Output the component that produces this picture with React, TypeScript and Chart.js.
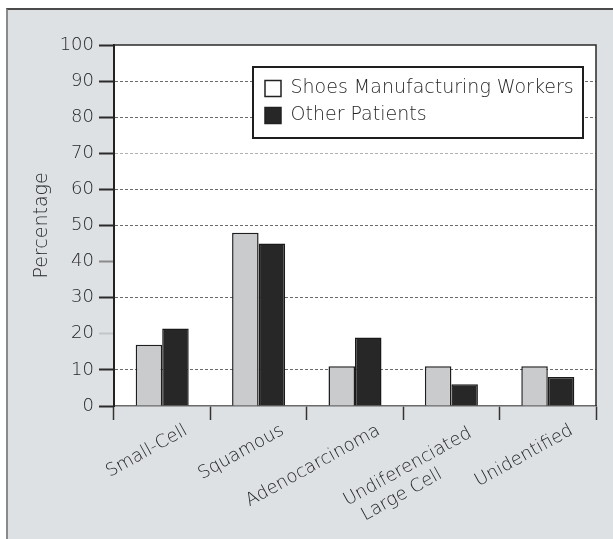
import React, { useEffect, useRef } from 'react';
import { Chart, registerables } from 'chart.js';

Chart.register(...registerables);

// ---- data ----
const categories: (string | string[])[] = [
  'Small-Cell',
  'Squamous',
  'Adenocarcinoma',
  ['Undiferenciated\u00a0', 'Large Cell\u00a0\u00a0\u00a0\u00a0\u00a0\u00a0\u00a0\u00a0\u00a0'],
  'Unidentified',
];
const seriesNames = ['Shoes Manufacturing Workers', 'Other Patients'];
const shoesWorkers = [17, 48, 11, 11, 11];
const otherPatients = [21.5, 45, 19, 6, 8];
const yMin = 0;
const yMax = 100;
const yStep = 10;

// ---- styles ----
const FONT = 'DejaVu Sans';
const WEIGHT = '200';
const TEXT = '#262626';
const GRAY_BAR = '#c9cbcc';
const DARK_BAR = '#272727';
const legendFills = ['#ffffff', DARK_BAR];
const LEGEND_BOX = { left: 253, top: 67, right: 583, bottom: 138 };

const gridColorFor = (v: number) => {
  if (v === 0 || v === 100 || v === 20 || v === 40) return 'rgba(0,0,0,0)';
  if (v === 70) return '#b0b0b0';
  return '#6a6a6a';
};
const tickColorFor = (v: number) => {
  if (v === 20) return 'rgba(0,0,0,0.12)';
  if (v === 40) return '#8a8a8a';
  return '#2a2a2a';
};

const framePlugin = {
  id: 'frames',
  beforeDraw(chart: any) {
    const { ctx, chartArea } = chart;
    const { left, top, right, bottom } = chartArea;
    ctx.save();
    ctx.fillStyle = '#ffffff';
    ctx.fillRect(left, top, right - left, bottom - top);
    ctx.restore();
  },
  afterLayout(chart: any) {
    const lg = chart.legend;
    if (!lg) return;
    lg.left = LEGEND_BOX.left + 4;
    lg.top = LEGEND_BOX.top + 4;
    lg.right = LEGEND_BOX.right;
    lg.bottom = LEGEND_BOX.bottom + 10;
    lg.width = lg.right - lg.left;
    lg.height = lg.bottom - lg.top;
  },
  beforeDatasetsDraw(chart: any) {
    const { ctx, chartArea } = chart;
    const { left, top, right, bottom } = chartArea;
    ctx.save();
    ctx.strokeStyle = '#2a2a2a';
    ctx.lineWidth = 1.5;
    ctx.beginPath();
    ctx.moveTo(left, top);
    ctx.lineTo(right, top);
    ctx.lineTo(right, bottom);
    ctx.stroke();
    // legend frame
    ctx.fillStyle = '#ffffff';
    ctx.fillRect(LEGEND_BOX.left, LEGEND_BOX.top, LEGEND_BOX.right - LEGEND_BOX.left, LEGEND_BOX.bottom - LEGEND_BOX.top);
    ctx.strokeStyle = '#1e1e1e';
    ctx.lineWidth = 2;
    ctx.strokeRect(LEGEND_BOX.left, LEGEND_BOX.top, LEGEND_BOX.right - LEGEND_BOX.left, LEGEND_BOX.bottom - LEGEND_BOX.top);
    ctx.restore();
    if (chart.legend) chart.legend.draw();
  },
};

export default function App() {
  const ref = useRef<HTMLCanvasElement | null>(null);

  useEffect(() => {
    if (!ref.current) return;
    const chart = new Chart(ref.current, {
      type: 'bar',
      data: {
        labels: categories as any,
        datasets: [
          {
            label: seriesNames[0],
            data: shoesWorkers,
            backgroundColor: GRAY_BAR,
            borderColor: '#1e1e1e',
            borderWidth: 1.5,
            categoryPercentage: 0.55,
            barPercentage: 1,
          },
          {
            label: seriesNames[1],
            data: otherPatients,
            backgroundColor: DARK_BAR,
            borderColor: '#1a1a1a',
            borderWidth: 1.5,
            categoryPercentage: 0.55,
            barPercentage: 1,
          },
        ],
      },
      options: {
        responsive: false,
        animation: false,
        devicePixelRatio: 1,
        layout: { padding: { left: 0, top: 45, right: 17, bottom: 0 } },
        plugins: {
          tooltip: { enabled: false },
          legend: {
            position: 'chartArea' as any,
            align: 'start',
            labels: {
              boxWidth: 16,
              boxHeight: 16,
              padding: 8,
              color: TEXT,
              font: { family: FONT, size: 19, weight: WEIGHT as any },
              generateLabels: () =>
                seriesNames.map((name, i) => ({
                  text: name,
                  fillStyle: legendFills[i],
                  strokeStyle: '#222',
                  lineWidth: 1.5,
                  hidden: false,
                  datasetIndex: i,
                  fontColor: TEXT,
                })),
            },
          },
        },
        scales: {
          x: {
            type: 'category',
            offset: true,
            grid: {
              offset: true,
              drawOnChartArea: false,
              drawTicks: true,
              tickLength: 14,
              tickColor: '#333',
              tickWidth: 1.5,
            },
            border: { color: '#6a6a6a', width: 1.5 },
            ticks: {
              autoSkip: false,
              minRotation: 29,
              maxRotation: 29,
              labelOffset: 24,
              padding: 0,
              color: TEXT,
              font: { family: FONT, size: 18, weight: WEIGHT as any },
            },
            afterFit: (s: any) => {
              s.height = 133;
            },
          },
          y: {
            min: yMin,
            max: yMax,
            ticks: {
              stepSize: yStep,
              padding: 5,
              color: TEXT,
              font: { family: FONT, size: 18, weight: WEIGHT as any },
            },
            grid: {
              color: (c: any) => gridColorFor(c.tick ? c.tick.value : -1),
              lineWidth: 1,
              tickLength: 15,
              tickWidth: 2,
              tickColor: (c: any) => tickColorFor(c.tick ? c.tick.value : -1),
            },
            border: { color: '#222', width: 2, dash: [3, 2] },
            title: {
              display: true,
              text: 'Percentage',
              color: TEXT,
              font: { family: FONT, size: 19, weight: WEIGHT as any },
              padding: { top: 31, bottom: 0 },
            },
            afterFit: (s: any) => {
              s.width = 114;
            },
          },
        },
      },
      plugins: [framePlugin],
    });
    return () => chart.destroy();
  }, []);

  return (
    <div style={{ position: 'absolute', left: 0, top: 0, width: 613, height: 539, overflow: 'hidden' }}>
      <div
        style={{
          position: 'absolute',
          left: 6,
          top: 8,
          right: 0,
          bottom: 0,
          background: '#dee1e4',
          borderTop: '2px solid #4a4a4a',
          borderLeft: '2px solid #8a8a8a',
        }}
      />
      <canvas ref={ref} width={613} height={539} style={{ position: 'absolute', left: 0, top: 0 }} />
    </div>
  );
}
